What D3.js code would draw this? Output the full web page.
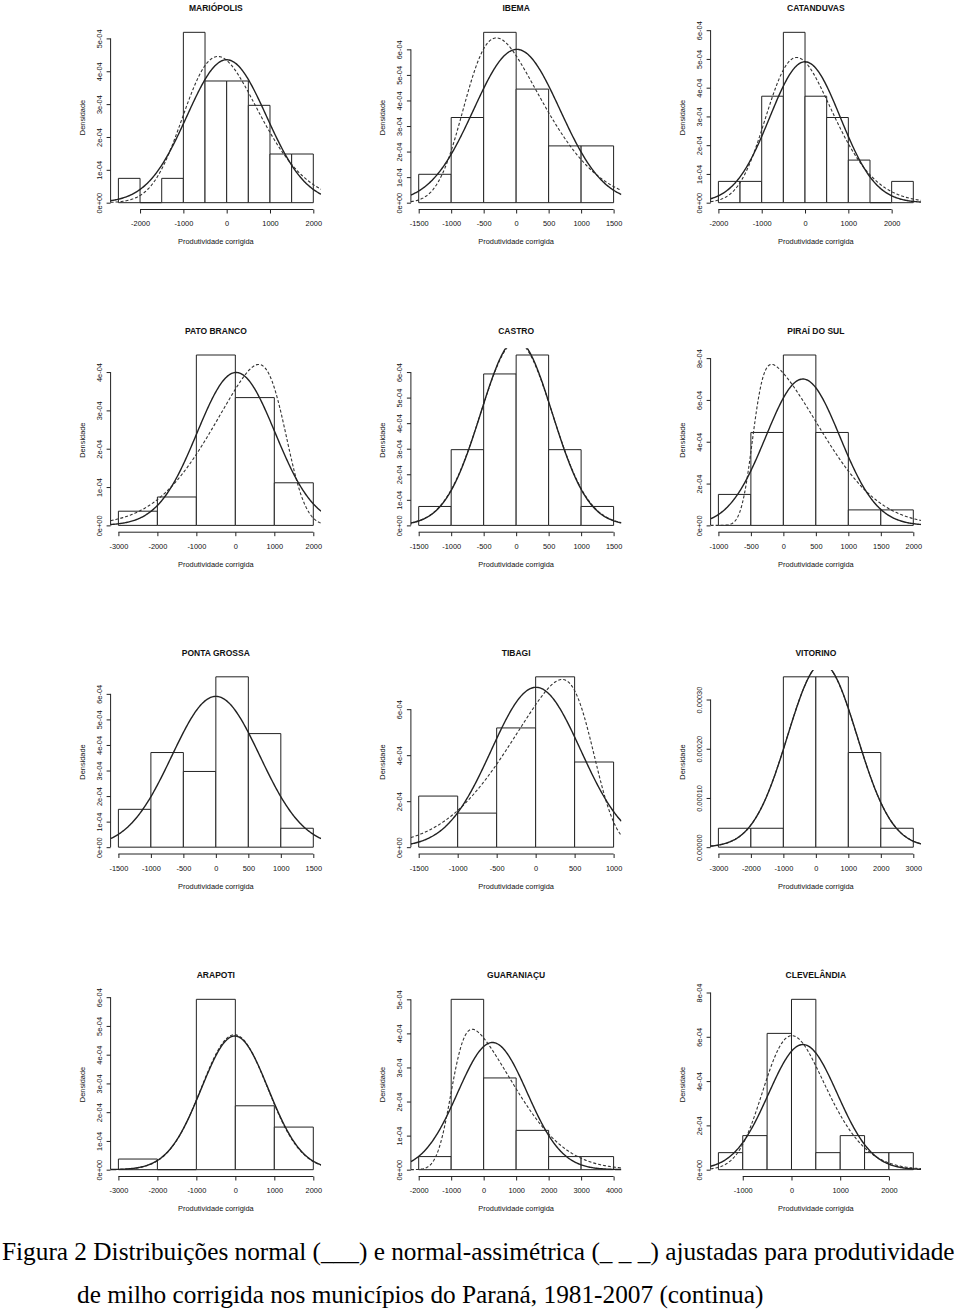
<!DOCTYPE html>
<html><head><meta charset="utf-8">
<script src="https://cdn.jsdelivr.net/npm/d3@7"></script>
<style>
body{margin:0;background:#fff;}
svg text{font-family:"Liberation Sans",Arial,sans-serif;fill:#111;}
</style></head><body>
<svg id="chart" width="960" height="1310"></svg>
<script>
// ---------- data ----------
const titles = ["MARIÓPOLIS","IBEMA","CATANDUVAS","PATO BRANCO","CASTRO","PIRAÍ DO SUL","PONTA GROSSA","TIBAGI","VITORINO","ARAPOTI","GUARANIAÇU","CLEVELÂNDIA"];
const breakStart = [-2500,-1500,-2000,-3000,-1500,-1000,-1500,-1500,-3000,-3000,-2000,-1500];
const binWidth = [500,500,500,1000,500,500,500,500,1000,1000,1000,500];
const counts = [
  [1,0,1,7,5,5,4,2,2],
  [1,3,6,4,2,2],
  [1,1,5,8,5,4,2,0,1],
  [1,2,12,9,3],
  [1,4,8,9,4,1],
  [2,6,11,6,1,1],
  [2,5,4,9,6,1],
  [3,2,7,10,5],
  [1,1,9,9,5,1],
  [1,0,16,6,4],
  [1,13,7,3,1,1],
  [1,2,8,10,1,2,1,1]
];
// fitted normal (solid)
const normMean = [0,10,0,20,5,300,0,5,200,-15,270,235];
const normSd   = [917,665,814,1000,550,570,676,574,1070,858,1069,706];
// fitted skew-normal (dashed): location, scale, shape
const snXi    = [-911,-787,-816,1290,-125,-475,null,738,-52,-283,-999,-512];
const snOmega = [1333,1020,1174,1659,570,973,null,955,1100,890,1750,980];
const snAlpha = [2,3,2,-4,0.3,7,null,-4,0.3,0.4,5,2];
const xTickLabels = [
  ["-2000","-1000","0","1000","2000"],
  ["-1500","-1000","-500","0","500","1000","1500"],
  ["-2000","-1000","0","1000","2000"],
  ["-3000","-2000","-1000","0","1000","2000"],
  ["-1500","-1000","-500","0","500","1000","1500"],
  ["-1000","-500","0","500","1000","1500","2000"],
  ["-1500","-1000","-500","0","500","1000","1500"],
  ["-1500","-1000","-500","0","500","1000"],
  ["-3000","-2000","-1000","0","1000","2000","3000"],
  ["-3000","-2000","-1000","0","1000","2000"],
  ["-2000","-1000","0","1000","2000","3000","4000"],
  ["-1000","0","1000","2000"]
];
const yTickLabels = [
  ["0e+00","1e-04","2e-04","3e-04","4e-04","5e-04"],
  ["0e+00","1e-04","2e-04","3e-04","4e-04","5e-04","6e-04"],
  ["0e+00","1e-04","2e-04","3e-04","4e-04","5e-04","6e-04"],
  ["0e+00","1e-04","2e-04","3e-04","4e-04"],
  ["0e+00","1e-04","2e-04","3e-04","4e-04","5e-04","6e-04"],
  ["0e+00","2e-04","4e-04","6e-04","8e-04"],
  ["0e+00","1e-04","2e-04","3e-04","4e-04","5e-04","6e-04"],
  ["0e+00","2e-04","4e-04","6e-04"],
  ["0.00000","0.00010","0.00020","0.00030"],
  ["0e+00","1e-04","2e-04","3e-04","4e-04","5e-04","6e-04"],
  ["0e+00","1e-04","2e-04","3e-04","4e-04","5e-04"],
  ["0e+00","2e-04","4e-04","6e-04","8e-04"]
];
const xTitle = "Produtividade corrigida";
const yTitle = "Densidade";
const captionLines = [
  "Figura 2 Distribuições normal (___) e normal-assimétrica (_ _ _) ajustadas para produtividade",
  "de milho corrigida nos municípios do Paraná, 1981-2007 (continua)"
];

// ---------- helpers ----------
function erf(x){const s=Math.sign(x);x=Math.abs(x);const t=1/(1+0.3275911*x);
  const y=1-(((((1.061405429*t-1.453152027)*t)+1.421413741)*t-0.284496736)*t+0.254829592)*t*Math.exp(-x*x);return s*y;}
const pnorm = z => 0.5*(1+erf(z/Math.SQRT2));
const dnorm = z => Math.exp(-z*z/2)/Math.sqrt(2*Math.PI);

// ---------- layout ----------
const colLeft=[110.6,410.9,710.6], plotW=210.5;
const rowTop=[25.5,348.2,670,992.5], plotH=184;
const svg=d3.select("#chart");
const defs=svg.append("defs");

titles.forEach((title,i)=>{
  const c=i%3, r=Math.floor(i/3);
  const x0=colLeft[c], y0=rowTop[r];
  const n=d3.sum(counts[i]);
  const w=binWidth[i];
  const dens=counts[i].map(k=>k/(n*w));
  const b0=breakStart[i], b1=b0+w*counts[i].length;
  const pad=(b1-b0)*0.04;
  const x=d3.scaleLinear().domain([b0-pad,b1+pad]).range([x0,x0+plotW]);
  const ymax=d3.max(dens);
  const y=d3.scaleLinear().domain([-ymax*0.04,ymax*1.04]).range([y0+plotH,y0]);
  const g=svg.append("g");

  defs.append("clipPath").attr("id","clip"+i).append("rect")
    .attr("x",x0).attr("y",y0).attr("width",plotW).attr("height",plotH);

  // histogram bars
  g.append("g").selectAll("path").data(dens).join("path")
    .attr("d",(d,j)=>{const a=x(b0+j*w), b=x(b0+(j+1)*w);
      return `M${a},${y(0)}V${y(d)}H${b}V${y(0)}Z`;})
    .attr("fill","#fff").attr("stroke","#222").attr("stroke-width",1);

  // curves
  const xs=d3.range(0,241).map(k=>x.domain()[0]+k*(x.domain()[1]-x.domain()[0])/240);
  const line=d3.line().x(d=>x(d[0])).y(d=>y(d[1]));
  const cg=g.append("g").attr("clip-path",`url(#clip${i})`);
  if(snXi[i]!==null){
    const sn=xs.map(v=>{const z=(v-snXi[i])/snOmega[i];return [v,2/snOmega[i]*dnorm(z)*pnorm(snAlpha[i]*z)];});
    cg.append("path").attr("d",line(sn)).attr("fill","none")
      .attr("stroke","#333").attr("stroke-width",1.1).attr("stroke-dasharray","3,2");
  }
  const nm=xs.map(v=>[v,dnorm((v-normMean[i])/normSd[i])/normSd[i]]);
  cg.append("path").attr("d",line(nm)).attr("fill","none")
    .attr("stroke","#222").attr("stroke-width",1.4);

  // x axis
  const xt=xTickLabels[i].map(Number);
  const xa=g.append("g").attr("transform",`translate(0,${y0+plotH})`)
    .call(d3.axisBottom(x).tickValues(xt).tickSize(4).tickPadding(4).tickFormat((d,k)=>xTickLabels[i][k]));
  xa.select(".domain").attr("d",`M${x(xt[0])},0H${x(xt[xt.length-1])}`).attr("stroke","#222");
  xa.selectAll(".tick line").attr("stroke","#222");
  xa.selectAll("text").attr("font-size",7.4).attr("y",14).attr("dy","0.35em");

  // y axis
  const yt=yTickLabels[i].map(Number);
  const ya=g.append("g").attr("transform",`translate(${x0},0)`)
    .call(d3.axisLeft(y).tickValues(yt).tickSize(4).tickFormat((d,k)=>yTickLabels[i][k]));
  ya.select(".domain").attr("d",`M0,${y(yt[0])}V${y(yt[yt.length-1])}`).attr("stroke","#222");
  ya.selectAll(".tick line").attr("stroke","#222");
  ya.selectAll("text").attr("font-size",7.4).attr("x",null).attr("dy",null)
    .attr("text-anchor","middle").attr("dominant-baseline","central")
    .attr("transform","translate(-11.5,0) rotate(-90)");

  // titles
  g.append("text").attr("x",x0+plotW/2).attr("y",y0-17.5).attr("text-anchor","middle")
    .attr("dominant-baseline","central").attr("font-size",8.5).attr("font-weight","bold").text(title);
  g.append("text").attr("x",x0+plotW/2).attr("y",y0+plotH+32).attr("text-anchor","middle")
    .attr("dominant-baseline","central").attr("font-size",7.4).text(xTitle);
  g.append("text").attr("transform",`translate(${x0-28},${y0+plotH/2}) rotate(-90)`)
    .attr("text-anchor","middle").attr("dominant-baseline","central").attr("font-size",7.4).text(yTitle);
});

// caption
svg.append("text").attr("x",2).attr("y",1260).attr("font-size",25.3)
  .style("font-family","'Liberation Serif','Times New Roman',serif").style("fill","#000").text(captionLines[0]);
svg.append("text").attr("x",77).attr("y",1303).attr("font-size",25.3)
  .style("font-family","'Liberation Serif','Times New Roman',serif").style("fill","#000").text(captionLines[1]);
</script>
</body></html>
